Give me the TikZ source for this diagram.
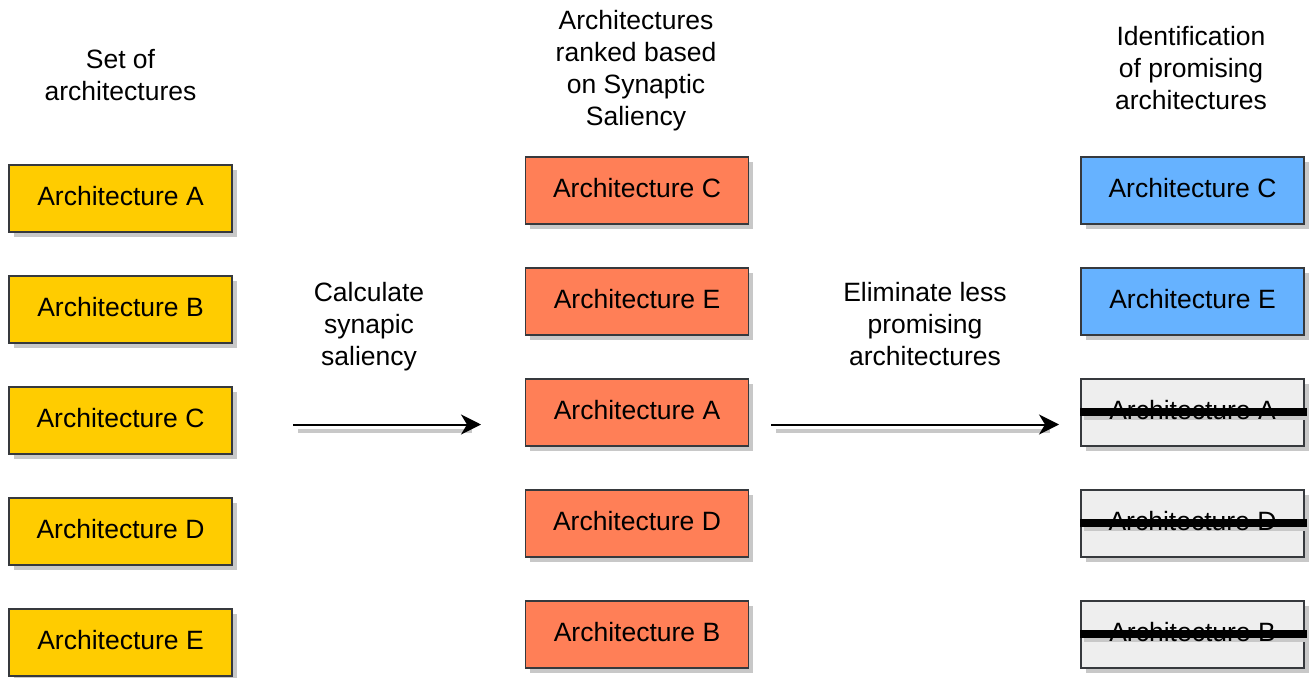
\documentclass[tikz,border=0pt]{standalone}
\usepackage{fontspec}
\setmainfont{Liberation Sans}
\usetikzlibrary{arrows.meta,shadows}
\definecolor{archyellow}{HTML}{FFCC00}
\definecolor{archorange}{HTML}{FF7F57}
\definecolor{archblue}{HTML}{66B2FF}
\definecolor{archgray}{HTML}{EEEEEE}
\definecolor{boxline}{HTML}{36393D}
\definecolor{shadowgray}{HTML}{C8C8C8}
\begin{document}
\begin{tikzpicture}[x=1pt,y=-1pt,
  txt/.style={font=\fontsize{26.5}{32}\selectfont, inner sep=0pt},
  label/.style={txt, align=center, anchor=north},
  boxtext/.style={txt, text height=19pt, text depth=5pt},
  arch/.style={boxtext, draw=boxline, line width=1.5pt, minimum width=223pt,
    minimum height=67pt,
    drop shadow={shadow xshift=4.5pt, shadow yshift=-4.5pt, fill=shadowgray, opacity=1}},
  setbox/.style={arch, fill=archyellow},
  rankbox/.style={arch, fill=archorange},
  keepbox/.style={arch, fill=archblue},
  dropbox/.style={arch, fill=archgray},
  flow/.style={line width=2pt, -{Stealth[length=20pt,width=20pt,inset=6pt]}},
  flowshade/.style={line width=4pt, shadowgray},
  strike/.style={line width=8pt, black},
  strikeshade/.style={line width=6pt, shadowgray}]
\useasboundingbox (0,0) rectangle (1313,677);

% column headings
\node[label] (hset)  at (120.5,49) {Set of\\architectures};
\node[label] (hrank) at (636,10)   {Architectures\\ranked based\\on Synaptic\\Saliency};
\node[label] (hkeep) at (1191,26)  {Identification\\of promising\\architectures};

% set of architectures
\node[setbox] (s1) at (120.5,198.5) {Architecture A};
\node[setbox] (s2) at (120.5,309.5) {Architecture B};
\node[setbox] (s3) at (120.5,420.5) {Architecture C};
\node[setbox] (s4) at (120.5,531.5) {Architecture D};
\node[setbox] (s5) at (120.5,642.5) {Architecture E};

% ranked by synaptic saliency
\node[rankbox] (m1) at (637,190.5) {Architecture C};
\node[rankbox] (m2) at (637,301.5) {Architecture E};
\node[rankbox] (m3) at (637,412.5) {Architecture A};
\node[rankbox] (m4) at (637,523.5) {Architecture D};
\node[rankbox] (m5) at (637,634.5) {Architecture B};

% promising architectures
\node[keepbox] (r1) at (1192.5,190.5) {Architecture C};
\node[keepbox] (r2) at (1192.5,301.5) {Architecture E};

% eliminated architectures: box, strike shadow, name, strike-through
\foreach \n/\yy/\name in {r3/412.5/A, r4/523.5/D, r5/634.5/B}{
  \node[dropbox] (\n) at (1192.5,\yy) {};
  \draw[strikeshade] ([xshift=4pt,yshift=-4.5pt]\n.west) -- ([xshift=4.5pt,yshift=-4.5pt]\n.east);
  \node[boxtext] (\n t) at (\n.center) {Architecture \name};
  \draw[strike] ([yshift=1pt]\n.west) -- ([xshift=2pt,yshift=1pt]\n.east);
}

% step labels
\node[label] (lcalc) at (369,282) {Calculate\\synapic\\saliency};
\node[label] (lelim) at (925,282) {Eliminate less\\promising\\architectures};

% step arrows
\coordinate (a1s) at (293,424.5);
\coordinate (a1e) at (481,424.5);
\coordinate (a2s) at (771,424.5);
\coordinate (a2e) at (1059,424.5);
\draw[flowshade] ([xshift=5pt,yshift=-6.5pt]a1s) -- ([xshift=-9pt,yshift=-6.5pt]a1e);
\draw[flowshade] ([xshift=5pt,yshift=-6.5pt]a2s) -- ([xshift=-9pt,yshift=-6.5pt]a2e);
\draw[flow] (a1s) -- (a1e);
\draw[flow] (a2s) -- (a2e);
\end{tikzpicture}
\end{document}
